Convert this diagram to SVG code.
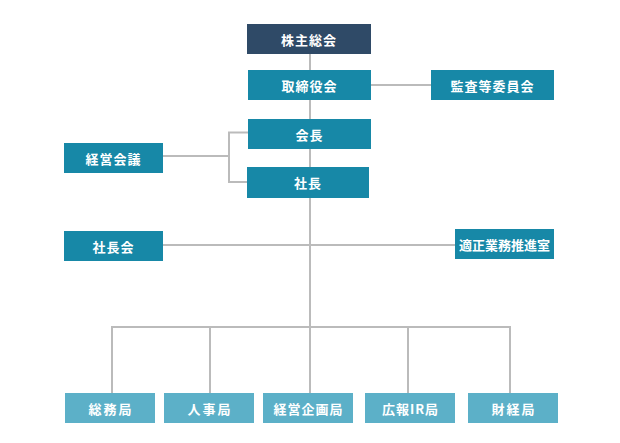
<svg xmlns="http://www.w3.org/2000/svg" width="620" height="443" viewBox="0 0 620 443">
<style>
.lines line,.lines polyline{stroke:#bbbbbb;stroke-width:2;fill:none}
.dark{fill:#2f4a67}
.main{fill:#1788a7}
.light{fill:#5cb0c8}
text{fill:#ffffff;font-family:"Noto Sans CJK JP","Noto Sans",sans-serif;font-size:13px;font-weight:bold;text-anchor:middle;dominant-baseline:central}
.sp{letter-spacing:1px}
.sp2{letter-spacing:2px}
</style>
<rect width="620" height="443" fill="#ffffff"/>
<g class="lines">
<line x1="310" y1="54" x2="310" y2="327"/>
<line x1="371" y1="85" x2="431" y2="85"/>
<line x1="163" y1="156" x2="229" y2="156"/>
<polyline points="248,132.5 229,132.5 229,182 247,182"/>
<line x1="163" y1="245" x2="455" y2="245"/>
<polyline points="112,393 112,327 510,327 510,393"/>
<line x1="210" y1="327" x2="210" y2="393"/>
<line x1="310" y1="327" x2="310" y2="393"/>
<line x1="408" y1="327" x2="408" y2="393"/>
</g>
<g id="kabunushi"><rect class="dark" x="247" y="24" width="124" height="30"/><text class="sp" x="309" y="39">株主総会</text></g>
<g id="torishimariyaku"><rect class="main" x="248" y="70" width="123" height="30"/><text class="sp" x="309.5" y="85">取締役会</text></g>
<g id="kansa"><rect class="main" x="431" y="70" width="123" height="30"/><text class="sp" x="492.5" y="85">監査等委員会</text></g>
<g id="kaicho"><rect class="main" x="248" y="119" width="123" height="30"/><text class="sp" x="309.5" y="134">会長</text></g>
<g id="shacho"><rect class="main" x="247" y="167" width="122" height="31"/><text class="sp" x="308" y="182.5">社長</text></g>
<g id="keieikaigi"><rect class="main" x="64" y="143" width="99" height="30"/><text class="sp" x="113.5" y="158">経営会議</text></g>
<g id="shachokai"><rect class="main" x="64" y="231" width="99" height="30"/><text class="sp" x="113.5" y="246">社長会</text></g>
<g id="tekisei"><rect class="main" x="455" y="229" width="99" height="30"/><text x="504.5" y="244">適正業務推進室</text></g>
<g id="somu"><rect class="light" x="65" y="393" width="90" height="30"/><text class="sp2" x="111" y="408">総務局</text></g>
<g id="jinji"><rect class="light" x="164" y="393" width="90" height="30"/><text class="sp2" x="210" y="408">人事局</text></g>
<g id="keieikikaku"><rect class="light" x="263" y="393" width="90" height="30"/><text class="sp" x="308.5" y="408">経営企画局</text></g>
<g id="koho"><rect class="light" x="365" y="393" width="90" height="30"/><text class="sp" x="410.5" y="408">広報IR局</text></g>
<g id="zaikei"><rect class="light" x="468" y="393" width="90" height="30"/><text class="sp2" x="514" y="408">財経局</text></g>
</svg>
